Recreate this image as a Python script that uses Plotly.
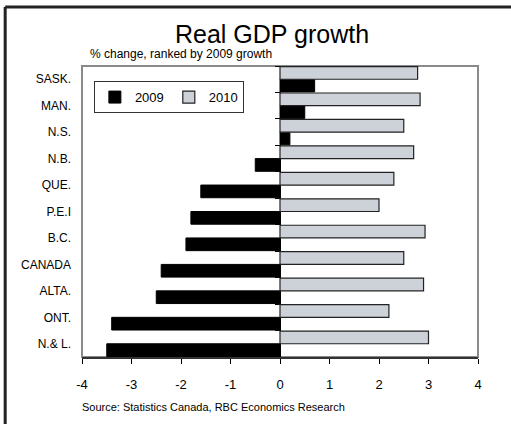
import plotly.graph_objects as go

provinces = ["SASK.", "MAN.", "N.S.", "N.B.", "QUE.", "P.E.I", "B.C.", "CANADA", "ALTA.", "ONT.", "N.& L."]
growth_2009 = [0.7, 0.5, 0.2, -0.5, -1.6, -1.8, -1.9, -2.4, -2.5, -3.4, -3.5]
growth_2010 = [2.78, 2.83, 2.5, 2.7, 2.3, 2.0, 2.93, 2.5, 2.9, 2.2, 3.0]
x_ticks = [-4, -3, -2, -1, 0, 1, 2, 3, 4]

FONT = "Liberation Sans, Arial, sans-serif"

fig = go.Figure()
fig.add_trace(go.Bar(
    name="2009", y=provinces, x=growth_2009, orientation="h",
    marker=dict(color="#000000", line=dict(color="#000000", width=1)),
))
fig.add_trace(go.Bar(
    name="2010", y=provinces, x=growth_2010, orientation="h",
    marker=dict(color="#CDD1D8", line=dict(color="#222222", width=1.2)),
))
# invisible helper trace carrying the zero-axis with category boundary ticks
fig.add_trace(go.Scatter(
    x=[0] * len(provinces), y=provinces, yaxis="y2", mode="markers",
    marker=dict(opacity=0, size=1), showlegend=False, hoverinfo="skip",
))

order = provinces[::-1]
n = len(provinces)

fig.update_layout(
    width=511, height=424,
    margin=dict(l=82, r=33, t=66, b=67),
    paper_bgcolor="white", plot_bgcolor="rgba(0,0,0,0)",
    barmode="group", bargap=0.04, bargroupgap=0,
    showlegend=True,
    legend=dict(
        x=0.03, y=0.948, xanchor="left", yanchor="top",
        orientation="h", bordercolor="#333333", borderwidth=1,
        bgcolor="white", font=dict(family=FONT, size=13, color="#000"),
        traceorder="normal", itemwidth=30,
    ),
    xaxis=dict(
        range=[-4, 4], tickvals=x_ticks, ticktext=[str(v) for v in x_ticks],
        showgrid=False, zeroline=False,
        showline=True, linecolor="#333333", linewidth=2,
        ticks="outside", ticklen=5, tickcolor="#000", tickwidth=1,
        tickfont=dict(family=FONT, size=13, color="#000"),
        ticklabelstandoff=9,
    ),
    yaxis=dict(
        type="category", categoryorder="array", categoryarray=order,
        range=[-0.5, n - 0.5],
        showgrid=False, zeroline=False, showline=False, ticks="",
        tickfont=dict(family=FONT, size=12, color="#000"),
        ticklabelstandoff=10,
    ),
    yaxis2=dict(
        type="category", categoryorder="array", categoryarray=order,
        range=[-0.5, n - 0.5], overlaying="y", anchor="free", position=0.5,
        side="left", showgrid=False, zeroline=False,
        showline=True, linecolor="#000", linewidth=1,
        ticks="outside", ticklen=5, tickcolor="#000", tickson="boundaries",
        showticklabels=False, layer="below traces",
    ),
    shapes=[
        dict(type="rect", xref="paper", yref="paper", x0=0, x1=1, y0=0, y1=1,
             line=dict(color="#8a8a8a", width=2), layer="below"),
        dict(type="line", xref="paper", yref="paper", x0=-0.194, x1=1.1, y0=1.203, y1=1.203,
             line=dict(color="#222222", width=3)),
        dict(type="line", xref="paper", yref="paper", x0=-0.194, x1=-0.194, y0=1.203, y1=-0.25,
             line=dict(color="#222222", width=3)),
    ],
    annotations=[
        dict(text="Real GDP growth", xref="paper", yref="paper", x=0.48, y=1.11,
             xanchor="center", yanchor="middle", showarrow=False,
             font=dict(family=FONT, size=25, color="#000")),
        dict(text="% change, ranked by 2009 growth", xref="paper", yref="paper", x=0.015, y=1.04,
             xanchor="left", yanchor="middle", showarrow=False,
             font=dict(family=FONT, size=12, color="#000")),
        dict(text="Source: Statistics Canada, RBC Economics Research", xref="paper", yref="paper",
             x=-0.005, y=-0.172, xanchor="left", yanchor="middle", showarrow=False,
             font=dict(family=FONT, size=11, color="#000")),
    ],
)

fig.write_html("out.html", config={"displayModeBar": False},
               post_script="document.body.style.margin='0';")
